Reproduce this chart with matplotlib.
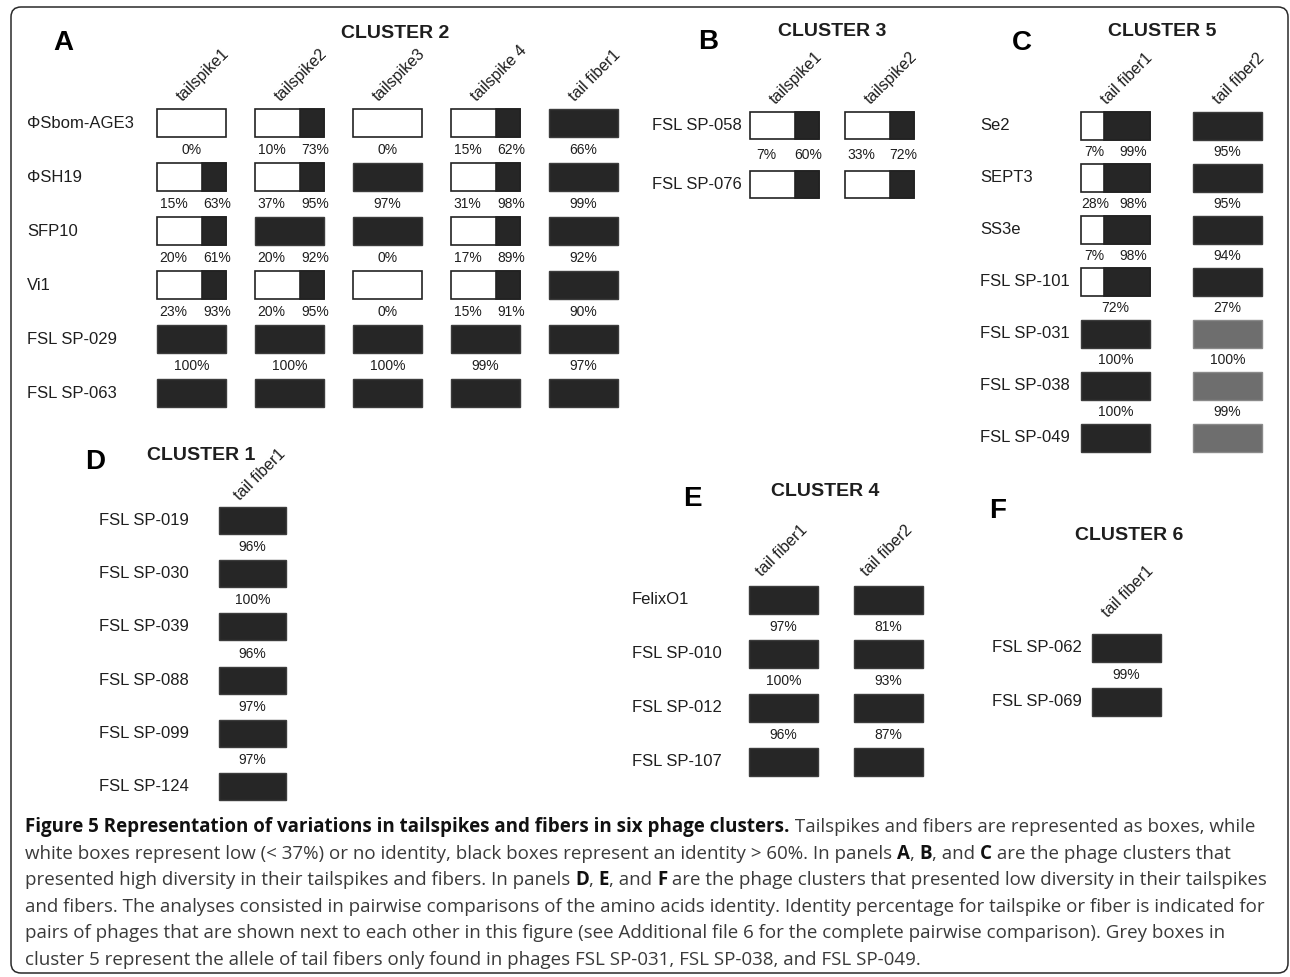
import matplotlib
matplotlib.use("Agg")
import matplotlib.pyplot as plt
from matplotlib.patches import Rectangle, FancyBboxPatch

plt.rcParams['font.family'] = ['Liberation Sans', 'DejaVu Sans']

# ── cluster data ──────────────────────────────────────────────────────────────
# box codes: W = white (no/low identity), S = split white/black, K = black, G = grey allele
A_phages = ["ΦSbom-AGE3", "ΦSH19", "SFP10", "Vi1", "FSL SP-029", "FSL SP-063"]
A_genes = ["tailspike1", "tailspike2", "tailspike3", "tailspike 4", "tail fiber1"]
A_boxes = ["WSWSK", "SSKSK", "SKKSK", "SSWSK", "KKKKK", "KKKKK"]
A_pct = [
    ["0%", "10% 73%", "0%", "15% 62%", "66%"],
    ["15% 63%", "37% 95%", "97%", "31% 98%", "99%"],
    ["20% 61%", "20% 92%", "0%", "17% 89%", "92%"],
    ["23% 93%", "20% 95%", "0%", "15% 91%", "90%"],
    ["100%", "100%", "100%", "99%", "97%"],
]

B_phages = ["FSL SP-058", "FSL SP-076"]
B_genes = ["tailspike1", "tailspike2"]
B_boxes = ["SS", "SS"]
B_pct = [["7% 60%", "33% 72%"]]

C_phages = ["Se2", "SEPT3", "SS3e", "FSL SP-101", "FSL SP-031", "FSL SP-038", "FSL SP-049"]
C_genes = ["tail fiber1", "tail fiber2"]
C_boxes = ["SK", "SK", "SK", "SK", "KG", "KG", "KG"]
C_pct = [
    ["7% 99%", "95%"],
    ["28% 98%", "95%"],
    ["7% 98%", "94%"],
    ["72%", "27%"],
    ["100%", "100%"],
    ["100%", "99%"],
]

D_phages = ["FSL SP-019", "FSL SP-030", "FSL SP-039", "FSL SP-088", "FSL SP-099", "FSL SP-124"]
D_genes = ["tail fiber1"]
D_boxes = ["K", "K", "K", "K", "K", "K"]
D_pct = [["96%"], ["100%"], ["96%"], ["97%"], ["97%"]]

E_phages = ["FelixO1", "FSL SP-010", "FSL SP-012", "FSL SP-107"]
E_genes = ["tail fiber1", "tail fiber2"]
E_boxes = ["KK", "KK", "KK", "KK"]
E_pct = [["97%", "81%"], ["100%", "93%"], ["96%", "87%"]]

F_phages = ["FSL SP-062", "FSL SP-069"]
F_genes = ["tail fiber1"]
F_boxes = ["K", "K"]
F_pct = [["99%"]]

CAPTION = [
    [("Figure 5 Representation of variations in tailspikes and fibers in six phage clusters.", True),
     (" Tailspikes and fibers are represented as boxes, while", False)],
    [("white boxes represent low (< 37%) or no identity, black boxes represent an identity > 60%. In panels ", False),
     ("A", True), (", ", False), ("B", True), (", and ", False), ("C", True),
     (" are the phage clusters that", False)],
    [("presented high diversity in their tailspikes and fibers. In panels ", False),
     ("D", True), (", ", False), ("E", True), (", and ", False), ("F", True),
     (" are the phage clusters that presented low diversity in their tailspikes", False)],
    [("and fibers. The analyses consisted in pairwise comparisons of the amino acids identity. "
      "Identity percentage for tailspike or fiber is indicated for", False)],
    [("pairs of phages that are shown next to each other in this figure (see Additional file 6 "
      "for the complete pairwise comparison). Grey boxes in", False)],
    [("cluster 5 represent the allele of tail fibers only found in phages FSL SP-031, FSL SP-038, "
      "and FSL SP-049.", False)],
]

# ── styling ───────────────────────────────────────────────────────────────────
BLACK = "#262626"
GREY = "#6e6e6e"
INK = "#1e1e1e"
FS_NAME, FS_PCT, FS_HEAD, FS_TITLE, FS_LETTER = 12, 10, 11.5, 14, 20

fig = plt.figure(figsize=(12.9, 9.77), dpi=100)
ax = fig.add_axes([0, 0, 1, 1])
ax.set_xlim(0, 1290)
ax.set_ylim(977, 0)
ax.axis("off")


def draw_box(x, y, w, h, code, split):
    if code == "W":
        ax.add_patch(Rectangle((x, y), w, h, facecolor="white", edgecolor="#222222", lw=1.2))
    elif code == "S":
        ax.add_patch(Rectangle((x, y), w, h, facecolor="white", edgecolor="#222222", lw=1.2))
        ax.add_patch(Rectangle((x + split * w, y), (1 - split) * w, h,
                               facecolor=BLACK, edgecolor="#222222", lw=1.2))
    else:
        fc = GREY if code == "G" else BLACK
        ec = "#8a8a8a" if code == "G" else "#3c3c3c"
        ax.add_patch(Rectangle((x, y), w, h, facecolor=fc, edgecolor=ec, lw=1.0))


def draw_panel(letter, title, phages, genes, boxes, pct, lay):
    ax.text(*lay["letter"], letter, fontsize=FS_LETTER, fontweight="bold",
            ha="center", va="center", color="black")
    ax.text(*lay["title"], title, fontsize=FS_TITLE, fontweight="bold",
            ha="center", va="center", color=INK)
    w, h = lay["w"], lay["h"]
    xs = [lay["x0"] + j * lay["dx"] for j in range(len(genes))]
    ys = [lay["y0"] + i * lay["dy"] for i in range(len(phages))]
    hx, hy = lay["head"]
    for j, g in enumerate(genes):
        ax.text(xs[j] + hx, ys[0] + hy, g, fontsize=FS_HEAD, rotation=45,
                rotation_mode="anchor", ha="left", va="baseline", color=INK)
    for i, name in enumerate(phages):
        ax.text(lay["name_x"], ys[i] + h / 2, name, fontsize=FS_NAME,
                ha="left", va="center", color=INK)
        for j, code in enumerate(boxes[i]):
            draw_box(xs[j], ys[i], w, h, code, lay["split"])
    left, right = lay["pair"]
    for i, row in enumerate(pct):
        yl = (ys[i] + h + ys[i + 1]) / 2
        for j, lab in enumerate(row):
            parts = lab.split()
            if len(parts) == 2:
                ax.text(xs[j] + left * w, yl, parts[0], fontsize=FS_PCT,
                        ha="center", va="center", color=INK)
                ax.text(xs[j] + right * w, yl, parts[1], fontsize=FS_PCT,
                        ha="center", va="center", color=INK)
            else:
                ax.text(xs[j] + 0.5 * w, yl, lab, fontsize=FS_PCT,
                        ha="center", va="center", color=INK)


draw_panel("A", "CLUSTER 2", A_phages, A_genes, A_boxes, A_pct,
           dict(letter=(63, 43), title=(395, 33), name_x=27, x0=157, dx=98, y0=109, dy=54,
                w=69, h=28, head=(26, -7), split=0.65, pair=(0.24, 0.87)))
draw_panel("B", "CLUSTER 3", B_phages, B_genes, B_boxes, B_pct,
           dict(letter=(708, 42), title=(832, 32), name_x=652, x0=750, dx=95, y0=112, dy=59,
                w=69, h=27, head=(26, -7), split=0.65, pair=(0.23, 0.85)))
draw_panel("C", "CLUSTER 5", C_phages, C_genes, C_boxes, C_pct,
           dict(letter=(1022, 43), title=(1162, 32), name_x=980, x0=1081, dx=112, y0=112, dy=52,
                w=69, h=28, head=(26, -7), split=0.33, pair=(0.2, 0.76)))
draw_panel("D", "CLUSTER 1", D_phages, D_genes, D_boxes, D_pct,
           dict(letter=(95, 462), title=(201, 456), name_x=99, x0=219, dx=0, y0=507, dy=53.2,
                w=67, h=27, head=(21, -6), split=0.5, pair=(0.25, 0.75)))
draw_panel("E", "CLUSTER 4", E_phages, E_genes, E_boxes, E_pct,
           dict(letter=(692, 499), title=(825, 491), name_x=632, x0=749, dx=105, y0=586, dy=54,
                w=69, h=28, head=(13, -9), split=0.5, pair=(0.25, 0.75)))
draw_panel("F", "CLUSTER 6", F_phages, F_genes, F_boxes, F_pct,
           dict(letter=(998, 511), title=(1129, 536), name_x=992, x0=1092, dx=0, y0=634, dy=54,
                w=69, h=28, head=(16, -16), split=0.5, pair=(0.25, 0.75)))

# ── caption, drawn piece by piece so bold runs sit inline ─────────────────────
renderer = fig.canvas.get_renderer()
inv = ax.transData.inverted()
for k, pieces in enumerate(CAPTION):
    x = 25
    y = 827 + k * 26.6
    for s, bold in pieces:
        t = ax.text(x, y, s, fontsize=13.5, family=["Open Sans", "DejaVu Sans"],
                    fontweight="bold" if bold else "normal",
                    color="#111111" if bold else "#3a3a3a", ha="left", va="center")
        bb = t.get_window_extent(renderer=renderer)
        x = inv.transform((bb.x1, bb.y0))[0]

# rounded outer frame
ax.add_patch(FancyBboxPatch((11, 7), 1277, 966, boxstyle="round,pad=0,rounding_size=10",
                            facecolor="none", edgecolor="#2a2a2a", lw=1.1))

fig.savefig("out.png", dpi=100)
